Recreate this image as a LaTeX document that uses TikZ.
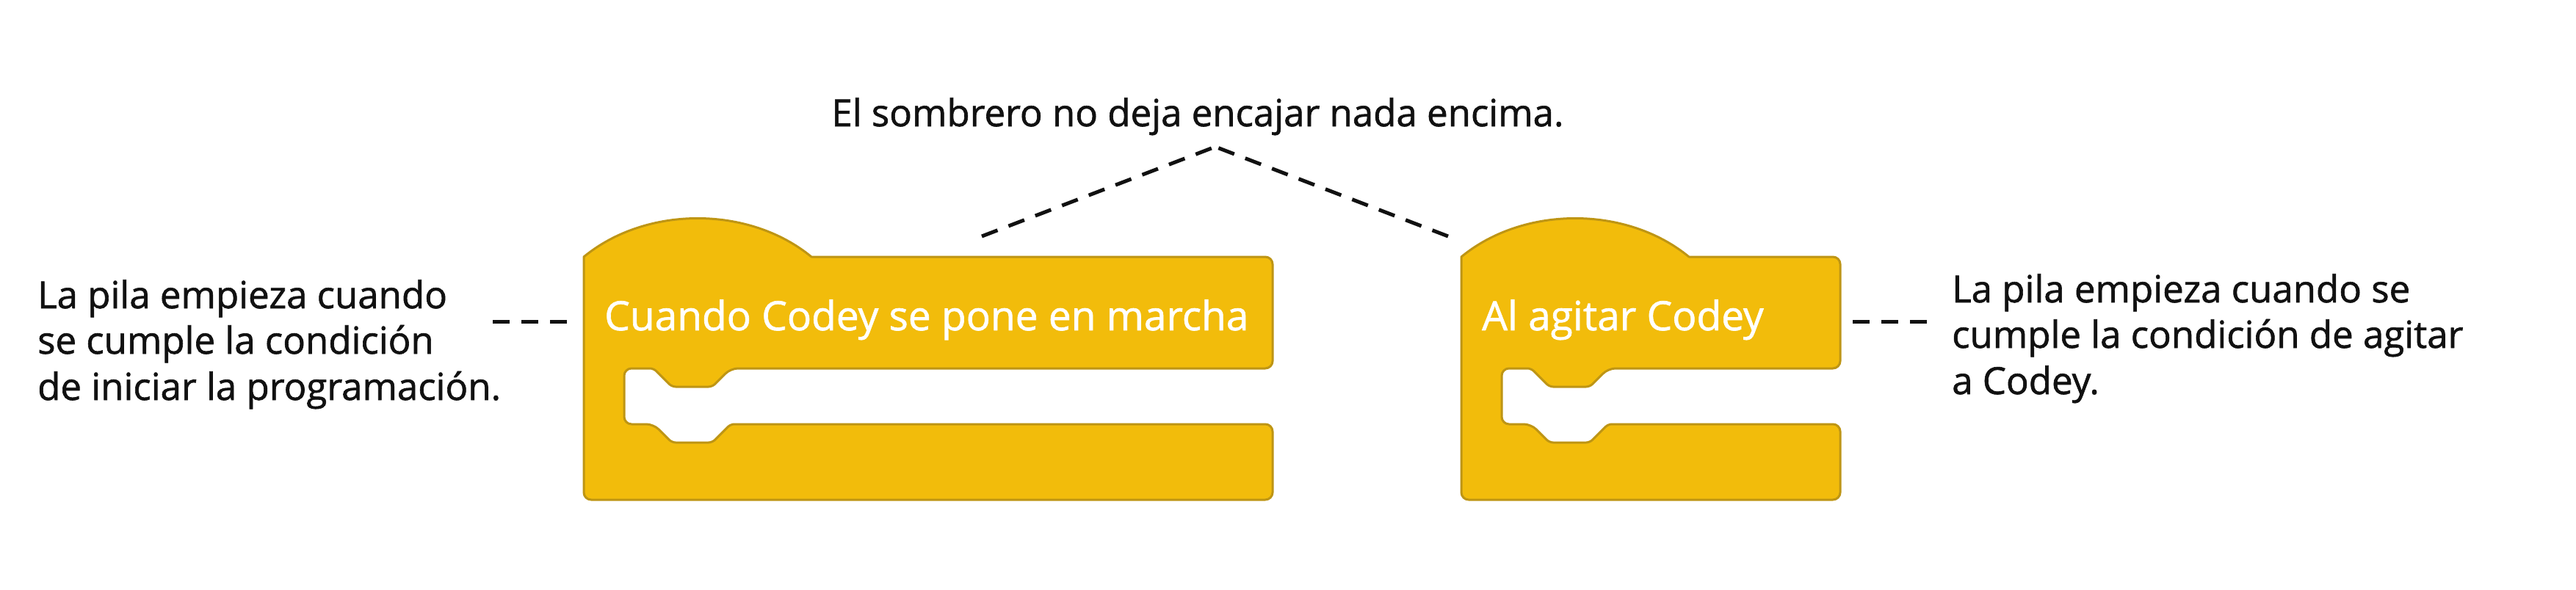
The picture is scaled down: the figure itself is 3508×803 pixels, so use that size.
\documentclass[tikz,border=0pt]{standalone}
\usepackage{fontspec}
\setmainfont{Open Sans}[RawFeature={embolden=1.2}]
\definecolor{blockfill}{HTML}{F2BC0B}
\definecolor{blockedge}{HTML}{BE9514}
\definecolor{ink}{HTML}{111111}
\newcommand\codeyblock[2]{%
 \draw[blockshape] (#1,500) -- (#1,350) .. controls (#1+85,280) and (#1+225,280) .. (#1+310,350)
   [rounded corners=10pt] -- (#2,350) -- (#2,502) -- (#1+200,502)
   [rounded corners=5pt] -- (#1+175,527) -- (#1+120,527) -- (#1+95,502)
   [rounded corners=10pt] -- (#1+55,502) -- (#1+55,578) -- (#1+95,578)
   [rounded corners=5pt] -- (#1+120,603) -- (#1+175,603) -- (#1+200,578)
   [rounded corners=10pt] -- (#2,578) -- (#2,681) -- (#1,681) -- cycle;}
\begin{document}
\begin{tikzpicture}[x=1pt,y=-1pt,
  blockshape/.style={fill=blockfill, draw=blockedge, line width=3pt, line join=round},
  blocklabel/.style={text=white, font=\fontsize{55}{66}\selectfont, anchor=base west, inner sep=0pt},
  note/.style={text=ink, font=\fontsize{51}{63}\selectfont, anchor=base west, inner sep=0pt},
  dashline/.style={line width=5pt, dash pattern=on 23pt off 16pt, ink}]
\useasboundingbox[fill=white] (0,0) rectangle (3508,803);
% blocks
\codeyblock{795}{1733}
\codeyblock{1990}{2506}
\node[blocklabel] (b1) at (823,450) {Cuando Codey se pone en marcha};
\node[blocklabel] (b2) at (2018,450) {Al agitar Codey};
% title
\node[note, anchor=base] (title) at (1631,172) {El sombrero no deja encajar nada encima.};
% left notes
\node[note] (la) at (51,420) {La pila empieza cuando};
\node[note] (lb) at (51,482) {se cumple la condición};
\node[note] (lc) at (51,545) {de iniciar la programación.};
% right notes
\node[note] (ra) at (2658,412) {La pila empieza cuando se};
\node[note] (rb) at (2658,474) {cumple la condición de agitar};
\node[note] (rc) at (2658,537) {a Codey.};
% connectors
\coordinate (dl1) at (671,438);
\coordinate (dl2) at (772,438);
\coordinate (dr1) at (2523,438);
\coordinate (dr2) at (2628,438);
\coordinate (apex) at (1655,200);
\coordinate (v1) at (1337,322);
\coordinate (v2) at (1972,322);
\draw[dashline] (dl1) -- (dl2);
\draw[dashline] (dr1) -- (dr2);
\draw[dashline] (v1) -- (apex);
\draw[dashline] (v2) -- (apex);
\end{tikzpicture}
\end{document}
